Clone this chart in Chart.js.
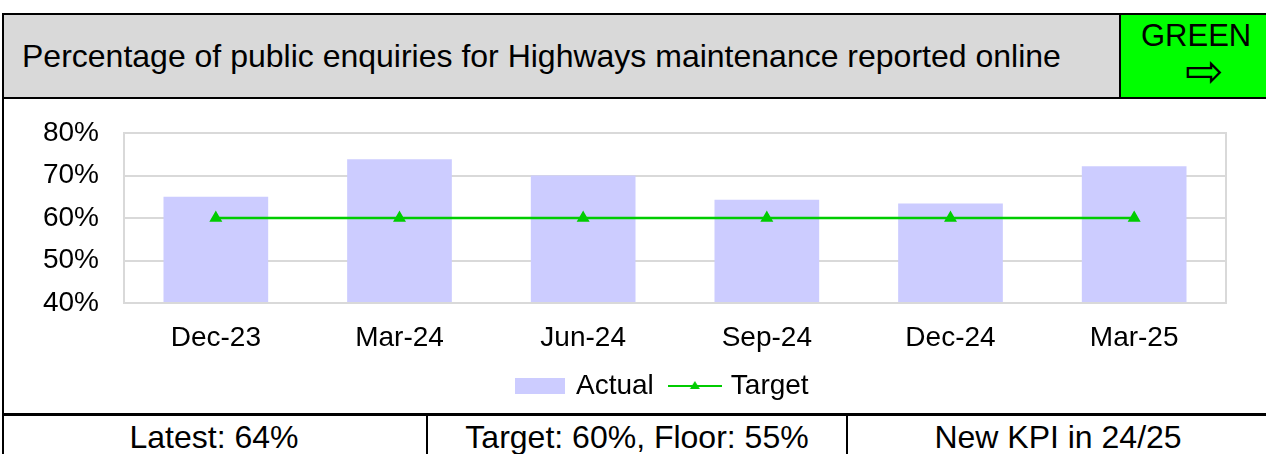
<!DOCTYPE html>
<html>
<head>
<meta charset="utf-8">
<script src="https://cdn.jsdelivr.net/npm/chart.js@4.4.1/dist/chart.umd.min.js"></script>
<style>
  html, body { margin: 0; padding: 0; background: #fff; }
  body { width: 1266px; height: 454px; overflow: hidden; position: relative; font-family: "Liberation Sans", Arial, sans-serif; color: #000; }
  #leftline { position: absolute; left: 2px; top: 13px; width: 2px; height: 460px; background: #000; }
  #header { position: absolute; left: 2px; top: 13px; width: 1270px; height: 82px; background: #d9d9d9; border: 2px solid #000; }
  #title { position: absolute; left: 18px; top: 25px; font-size: 32px; line-height: 32px; white-space: nowrap; }
  #rag { position: absolute; left: 1115px; top: 0; width: 160px; height: 82px; background: #00ff00; border-left: 2px solid #000; }
  #rag .word { position: absolute; left: 20px; top: 5px; font-size: 31px; line-height: 31px; }
  #rag .arrow { position: absolute; left: 64px; top: 33px; font-size: 46px; line-height: 46px; font-family: "DejaVu Sans", sans-serif; }
  #chartbox { position: absolute; left: 4px; top: 97px; width: 1262px; height: 314px; }
  #footer { position: absolute; left: 2px; top: 413px; width: 1270px; height: 60px; border-top: 3px solid #000; }
  .cell { position: absolute; top: 0; height: 60px; font-size: 32px; line-height: 32px; text-align: center; }
  .cell span { position: relative; top: 5px; }
  .cell.div { border-left: 2px solid #000; }
</style>
</head>
<body>
<div id="header">
  <div id="title">Percentage of public enquiries for Highways maintenance reported online</div>
  <div id="rag"><span class="word">GREEN</span><span class="arrow">⇨</span></div>
</div>
<div id="chartbox"><canvas id="chart"></canvas></div>
<div id="footer">
  <div class="cell" style="left:0;width:424px;"><span>Latest: 64%</span></div>
  <div class="cell div" style="left:424px;width:418px;"><span>Target: 60%, Floor: 55%</span></div>
  <div class="cell div" style="left:844px;width:420px;"><span>New KPI in 24/25</span></div>
</div>
<div id="leftline"></div>
<script>
const quarters = ['Dec-23', 'Mar-24', 'Jun-24', 'Sep-24', 'Dec-24', 'Mar-25'];
const actual = [0.65, 0.738, 0.70, 0.643, 0.634, 0.722];
const target = [0.60, 0.60, 0.60, 0.60, 0.60, 0.60];
const yTicks = [0.4, 0.5, 0.6, 0.7, 0.8];

const barColor = '#ccccff';
const lineColor = '#00cc00';
const gridColor = '#d9d9d9';
const fontFamily = 'Liberation Sans';

// petites images pour la légende
function legendBar() {
    const c = document.createElement('canvas');
    c.width = 50; c.height = 16;
    const g = c.getContext('2d');
    g.fillStyle = barColor;
    g.fillRect(0, 0, 50, 16);
    return c;
}
function legendLine() {
    const c = document.createElement('canvas');
    c.width = 54; c.height = 16;
    const g = c.getContext('2d');
    g.strokeStyle = lineColor;
    g.lineWidth = 2;
    g.beginPath(); g.moveTo(0, 8); g.lineTo(54, 8); g.stroke();
    g.fillStyle = lineColor;
    g.beginPath(); g.moveTo(27, 3); g.lineTo(32, 11); g.lineTo(22, 11); g.closePath(); g.fill();
    return c;
}

const frame = {
    id: 'frame',
    afterDraw(chart) {
        const a = chart.chartArea, ctx = chart.ctx;
        ctx.save();
        ctx.strokeStyle = gridColor;
        ctx.lineWidth = 2;
        ctx.strokeRect(a.left, a.top, a.right - a.left, a.bottom - a.top);
        ctx.restore();
    }
};

new Chart(document.getElementById('chart').getContext('2d'), {
    data: {
        labels: quarters,
        datasets: [
            {
                type: 'line', label: 'Target', data: target,
                borderColor: lineColor, backgroundColor: lineColor, borderWidth: 2.5,
                pointStyle: 'triangle', pointRadius: 5, pointBackgroundColor: lineColor,
                pointBorderColor: lineColor, order: 0
            },
            {
                type: 'bar', label: 'Actual', data: actual,
                backgroundColor: barColor, categoryPercentage: 0.57, barPercentage: 1, order: 1
            }
        ]
    },
    options: {
        responsive: true,
        maintainAspectRatio: false,
        animation: false,
        layout: { padding: { top: 36, right: 40, bottom: 1, left: 0 } },
        plugins: {
            tooltip: { enabled: false },
            legend: {
                position: 'bottom',
                fullSize: false,
                reverse: true,
                labels: {
                    usePointStyle: true,
                    pointStyleWidth: 44,
                    color: '#000',
                    padding: 19,
                    font: { family: fontFamily, size: 28 },
                    // espaces insécables en fin de libellé pour recentrer la légende
                    generateLabels: chart => chart.data.datasets.map((ds, i) => ({
                        text: ds.type === 'line' ? ds.label + '\u00a0\u00a0\u00a0' : ds.label,
                        datasetIndex: i,
                        pointStyle: ds.type === 'bar' ? legendBar() : legendLine(),
                        hidden: false,
                        lineWidth: 0
                    }))
                }
            }
        },
        scales: {
            x: {
                grid: { display: false, drawTicks: false },
                border: { color: gridColor, width: 2 },
                ticks: { color: '#000', padding: 21, font: { family: fontFamily, size: 28, lineHeight: 1 } },
                afterFit: s => { s.height = 50; }
            },
            y: {
                min: 0.4, max: 0.8,
                afterBuildTicks: s => { s.ticks = yTicks.map(v => ({ value: v })); },
                grid: { color: gridColor, lineWidth: 2, drawTicks: false },
                border: { color: gridColor, width: 2 },
                ticks: {
                    color: '#000', padding: 25,
                    font: { family: fontFamily, size: 28, lineHeight: 0.5 },
                    callback: v => Math.round(v * 100) + '%'
                },
                afterFit: s => { s.width = 120; }
            }
        }
    },
    plugins: [frame]
});
</script>
</body>
</html>
